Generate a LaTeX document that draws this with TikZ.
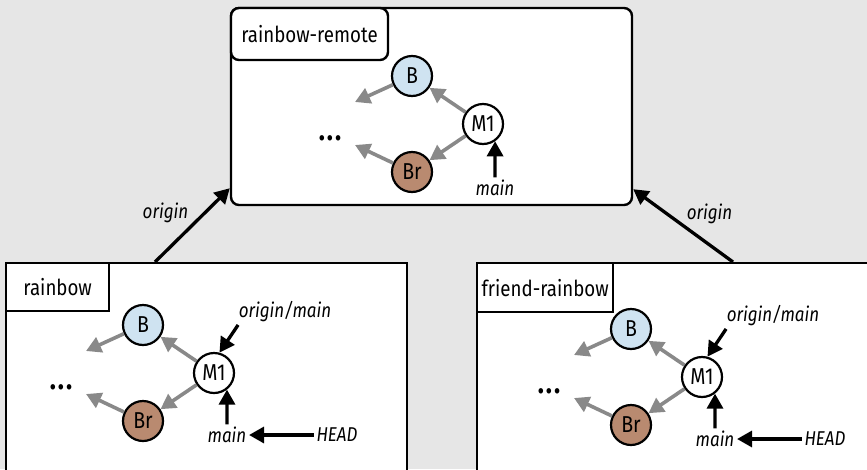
\documentclass[tikz,border=0pt]{standalone}
\usepackage{fontspec}
\setmainfont{Fira Sans}[FakeStretch=0.85]
\usepackage{xcolor}
\usetikzlibrary{arrows.meta, calc}

\definecolor{bggray}{HTML}{E6E6E6}
\definecolor{bblue}{HTML}{CFE3F1}
\definecolor{brbrown}{HTML}{B98A70}
\definecolor{pgray}{HTML}{898989}

\newcommand{\ellip}{{\bfseries\fontsize{30}{30}\selectfont .\kern2pt.\kern2pt.}}

\tikzset{
  repo/.style={draw, line width=2.4pt, fill=white, inner sep=0pt},
  tag/.style={draw, line width=2.4pt, fill=white, anchor=north west, inner sep=0pt},
  commit/.style={circle, draw, line width=2.2pt, fill=white, minimum size=40pt, inner sep=0pt, font=\fontsize{23}{26}\selectfont},
  parent/.style={draw=pgray, line width=3.6pt, -{Triangle[length=15pt, width=16pt]}},
  ref/.style={line width=3.3pt, -{Triangle[length=15pt, width=16pt]}},
  lbl/.style={font=\fontsize{20}{24}\selectfont\itshape, inner sep=2.5pt},
}

\begin{document}
\begin{tikzpicture}[x=1pt, y=-1pt, font=\fontsize{22}{26}\selectfont]
    \useasboundingbox (0,0) rectangle (867,469);
    \clip (0,0) rectangle (867,469);
    \fill[bggray] (0,0) rectangle (867,469);
    % Remote repository
    \node[repo, rounded corners=8pt, minimum width=401pt, minimum height=197pt] (remote) at (431.5,106.5) {};
    \node[tag, rounded corners=8pt, minimum width=157pt, minimum height=52pt] (remotetag) at (remote.north west) {rainbow-remote};
    \begin{scope}[shift={(483,124)}]
        \node[commit] (rM1) at (0,0) {M1};
        \node[commit, fill=bblue] (rB) at (-71,-48) {B};
        \node[commit, fill=brbrown] (rBr) at (-71,48) {Br};
        \node (rdots) at (-153,14) {\ellip};
        \coordinate (rBend) at (-128,-22);
        \coordinate (rBrend) at (-128,21);
        \node[lbl] (rmain) at (12,64) {main};
        % Parent links
        \draw[parent] (rM1) -- (rB);
        \draw[parent] (rM1) -- (rBr);
        \draw[parent] (rB) -- (rBend);
        \draw[parent] (rBr) -- (rBrend);
        \draw[ref] (rmain) -- (rM1.-55);
    \end{scope}
    % Local repository
    \node[repo, minimum width=401pt, minimum height=240pt, anchor=north west] (local) at (5,262) {};
    \node[tag, minimum width=103pt, minimum height=48pt] (localtag) at (local.north west) {rainbow};
    \begin{scope}[shift={(214,373)}]
        \node[commit] (lM1) at (0,0) {M1};
        \node[commit, fill=bblue] (lB) at (-71,-48) {B};
        \node[commit, fill=brbrown] (lBr) at (-71,48) {Br};
        \node (ldots) at (-153,14) {\ellip};
        \coordinate (lBend) at (-128,-22);
        \coordinate (lBrend) at (-128,21);
        \node[lbl] (lmain) at (13,62) {main};
        \node[lbl] (lhead) at (123,62) {HEAD};
        \node[lbl] (lorig) at (71,-61) {origin/main};
        % Parent links
        \draw[parent] (lM1) -- (lB);
        \draw[parent] (lM1) -- (lBr);
        \draw[parent] (lB) -- (lBend);
        \draw[parent] (lBr) -- (lBrend);
        % Refs
        \draw[ref] (lmain) -- (lM1.-52);
        \draw[ref] (lhead) -- (lmain);
        \draw[ref] ([xshift=2pt]lorig.south west) -- (lM1.75);
    \end{scope}
    % Friend's repository
    \node[repo, minimum width=420pt, minimum height=240pt, anchor=north west] (fork) at (476,262) {};
    \node[tag, minimum width=136pt, minimum height=49pt] (forktag) at (fork.north west) {friend-rainbow};
    \begin{scope}[shift={(702,377)}]
        \node[commit] (fM1) at (0,0) {M1};
        \node[commit, fill=bblue] (fB) at (-71,-48) {B};
        \node[commit, fill=brbrown] (fBr) at (-71,48) {Br};
        \node (fdots) at (-153,14) {\ellip};
        \coordinate (fBend) at (-128,-22);
        \coordinate (fBrend) at (-128,21);
        \node[lbl] (fmain) at (13,62) {main};
        \node[lbl] (fhead) at (123,62) {HEAD};
        \node[lbl] (forig) at (71,-61) {origin/main};
        % Parent links
        \draw[parent] (fM1) -- (fB);
        \draw[parent] (fM1) -- (fBr);
        \draw[parent] (fB) -- (fBend);
        \draw[parent] (fBr) -- (fBrend);
        % Refs
        \draw[ref] (fmain) -- (fM1.-52);
        \draw[ref] (fhead) -- (fmain);
        \draw[ref] ([xshift=2pt]forig.south west) -- (fM1.75);
    \end{scope}
    % Remotes
    \draw[ref] ([xshift=150pt]local.north west) -- node[lbl, pos=0.66, left=12pt] {origin} ([yshift=18pt]remote.south west);
    \draw[ref] ([xshift=257pt]fork.north west) -- node[lbl, pos=0.66, right=15.5pt] {origin} ([yshift=17pt]remote.south east);
\end{tikzpicture}
\end{document}
